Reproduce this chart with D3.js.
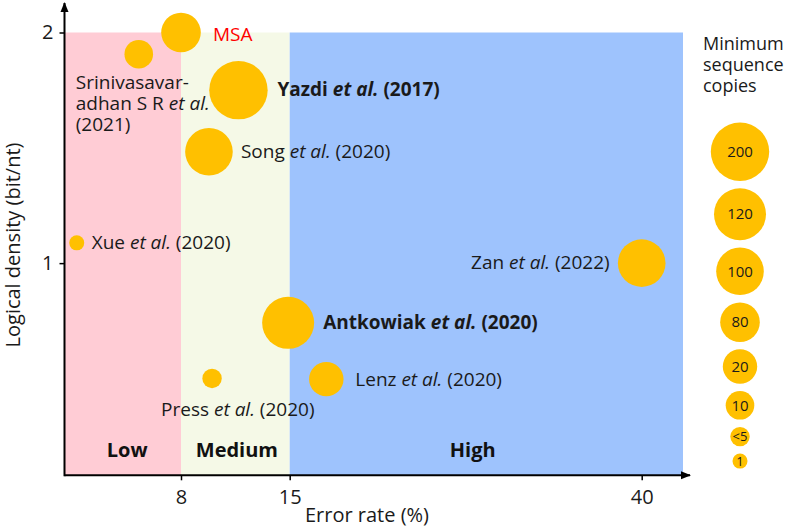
<!DOCTYPE html>
<html>
<head>
<meta charset="utf-8">
<script src="https://cdn.jsdelivr.net/npm/d3@7"></script>
<style>
  html, body { margin: 0; padding: 0; background: #fff; }
  svg { display: block; font-family: "Open Sans", "Noto Sans", sans-serif; }
</style>
</head>
<body>
<svg id="chart" width="786" height="527"></svg>
<script>
// ---------- data ----------
const studyNames   = ["MSA", "Srinivasavaradhan", "Yazdi", "Song", "Xue", "Zan", "Antkowiak", "Press", "Lenz"];
const errorRates   = [8, 5.1, 11.7, 9.8, 0.84, 40, 14.9, 10, 17.6];
const densities    = [2.0, 1.906, 1.75, 1.483, 1.088, 1.0, 0.741, 0.5, 0.497];
const copies       = ["80", "10", "200", "100", "1", "100", "120", "<5", "20"];
const labelLines   = [
  [[["MSA", ""]]],
  [[["Srinivasavar-", ""]], [["adhan S R ", ""], ["et al.", "i"]], [["(2021)", ""]]],
  [[["Yazdi ", "b"], ["et al.", "bi"], [" (2017)", "b"]]],
  [[["Song ", ""], ["et al.", "i"], [" (2020)", ""]]],
  [[["Xue ", ""], ["et al.", "i"], [" (2020)", ""]]],
  [[["Zan ", ""], ["et al.", "i"], [" (2022)", ""]]],
  [[["Antkowiak ", "b"], ["et al.", "bi"], [" (2020)", "b"]]],
  [[["Press ", ""], ["et al.", "i"], [" (2020)", ""]]],
  [[["Lenz ", ""], ["et al.", "i"], [" (2020)", ""]]]
];
const xTicks       = [8, 15, 40];
const yTicks       = [1, 2];
const regionNames  = ["Low", "Medium", "High"];
const regionBounds = [[0, 8], [8, 15], [15, 43]];
const regionLabelX = [4.3, 11.6, 28];
const legendCopies = ["200", "120", "100", "80", "20", "10", "<5", "1"];
const legendTitle  = ["Minimum", "sequence", "copies"];

// ---------- layout / styles ----------
const svg = d3.select("#chart");
const x = d3.scaleLinear().domain([0, 8, 15, 40, 43]).range([64.5, 181, 289.7, 641.7, 683]);
const y = d3.scaleLinear().domain([0.08, 2]).range([475.3, 32.5]);
const r = d3.scaleOrdinal().domain(legendCopies).range([29.2, 26, 23.8, 19.8, 17.2, 14.3, 9.7, 7.5]);
const regionColors = ["#FFCCD5", "#F5F9E7", "#9EC3FD"];
const gold = "#FFC000";
const ink = "#1a1a1a";
const fontSize = 19;

// label anchors relative to bubble centres
const labelLayout = {
  MSA:               { dx: 32,  dy: 8,  anchor: "start", fill: "#FF0000" },
  Srinivasavaradhan: { dx: -63, dy: 35, anchor: "start" },
  Yazdi:             { dx: 39,  dy: 6,  anchor: "start" },
  Song:              { dx: 32,  dy: 6,  anchor: "start" },
  Xue:               { dx: 15,  dy: 6,  anchor: "start" },
  Zan:               { dx: -32, dy: 6,  anchor: "end" },
  Antkowiak:         { dx: 35,  dy: 6,  anchor: "start" },
  Press:             { dx: -51, dy: 38, anchor: "start" },
  Lenz:              { dx: 29,  dy: 7,  anchor: "start" }
};

// regions
svg.append("g").selectAll("rect").data(regionBounds).join("rect")
  .attr("x", d => x(d[0]))
  .attr("y", y(2))
  .attr("width", d => x(d[1]) - x(d[0]))
  .attr("height", d => y(0.08) - y(2))
  .attr("fill", (d, i) => regionColors[i]);

svg.append("g").selectAll("text").data(regionNames).join("text")
  .attr("x", (d, i) => x(regionLabelX[i]))
  .attr("y", 457)
  .attr("text-anchor", "middle")
  .attr("font-weight", "bold")
  .attr("font-size", 20)
  .attr("fill", "#111")
  .text(d => d);

// bubbles
const pts = studyNames.map((n, i) => ({ name: n, x: errorRates[i], y: densities[i], c: copies[i], lines: labelLines[i] }));
svg.append("g").selectAll("circle").data(pts).join("circle")
  .attr("cx", d => x(d.x))
  .attr("cy", d => y(d.y))
  .attr("r", d => r(d.c))
  .attr("fill", gold);

// labels
const lg = svg.append("g").attr("font-size", fontSize).attr("fill", ink);
pts.forEach(d => {
  const L = labelLayout[d.name];
  d.lines.forEach((parts, li) => {
    const t = lg.append("text")
      .attr("x", x(d.x) + L.dx)
      .attr("y", y(d.y) + L.dy + li * 21)
      .attr("text-anchor", L.anchor);
    if (L.fill) t.attr("fill", L.fill);
    parts.forEach(([s, st]) => {
      t.append("tspan")
        .attr("font-weight", st.includes("b") ? "bold" : null)
        .attr("font-style", st.includes("i") ? "italic" : null)
        .text(s);
    });
  });
});

// axes
const axisY = 475.3, axisX = 64.5;
const defs = svg.append("defs");
defs.append("marker").attr("id", "arrow").attr("viewBox", "0 0 10 10")
  .attr("refX", 9).attr("refY", 5).attr("markerWidth", 5).attr("markerHeight", 5)
  .attr("orient", "auto").attr("markerUnits", "strokeWidth")
  .append("path").attr("d", "M0,1 L10,5 L0,9 Z").attr("fill", "#000");

svg.append("line").attr("x1", axisX).attr("y1", axisY).attr("x2", 690).attr("y2", axisY)
  .attr("stroke", "#000").attr("stroke-width", 2).attr("marker-end", "url(#arrow)");
svg.append("line").attr("x1", axisX).attr("y1", axisY + 1).attr("x2", axisX).attr("y2", 3)
  .attr("stroke", "#000").attr("stroke-width", 2).attr("marker-end", "url(#arrow)");

const xAxis = svg.append("g").attr("transform", `translate(0,${axisY})`)
  .call(d3.axisBottom(x).tickValues(xTicks).tickSize(5).tickPadding(10).tickFormat(d3.format("d")));
xAxis.select(".domain").remove();
xAxis.selectAll("line").attr("stroke", "#000").attr("stroke-width", 1.5);
xAxis.selectAll("text").attr("font-size", 20).attr("font-family", "Open Sans").attr("fill", ink);

const yAxis = svg.append("g").attr("transform", `translate(${axisX},0)`)
  .call(d3.axisLeft(y).tickValues(yTicks).tickSize(5).tickPadding(6).tickFormat(d3.format("d")));
yAxis.select(".domain").remove();
yAxis.selectAll("line").attr("stroke", "#000").attr("stroke-width", 1.5);
yAxis.selectAll("text").attr("font-size", 20).attr("font-family", "Open Sans").attr("fill", ink);

svg.append("text").attr("x", 367).attr("y", 522).attr("text-anchor", "middle")
  .attr("font-size", 20).attr("fill", ink).text("Error rate (%)");
svg.append("text").attr("transform", "translate(20,245) rotate(-90)").attr("text-anchor", "middle")
  .attr("font-size", 20).attr("fill", ink).text("Logical density (bit/nt)");

// legend
const legG = svg.append("g");
legG.selectAll("text.title").data(legendTitle).join("text").attr("class", "title")
  .attr("x", 703).attr("y", (d, i) => 50 + i * 21)
  .attr("font-size", 18).attr("fill", ink).text(d => d);
let cy = 151.7;
const legPos = legendCopies.map((c, i) => {
  if (i > 0) cy += r(legendCopies[i - 1]) + 7.3 + r(c);
  return { c, cy };
});
legG.selectAll("circle").data(legPos).join("circle")
  .attr("cx", 740).attr("cy", d => d.cy).attr("r", d => r(d.c)).attr("fill", gold);
legG.selectAll("text.lab").data(legPos).join("text").attr("class", "lab")
  .attr("x", 740).attr("y", d => d.cy).attr("dy", "0.35em").attr("text-anchor", "middle")
  .attr("font-size", d => r(d.c) < 10 ? 13 : 15).attr("fill", ink).text(d => d.c);
</script>
</body>
</html>
